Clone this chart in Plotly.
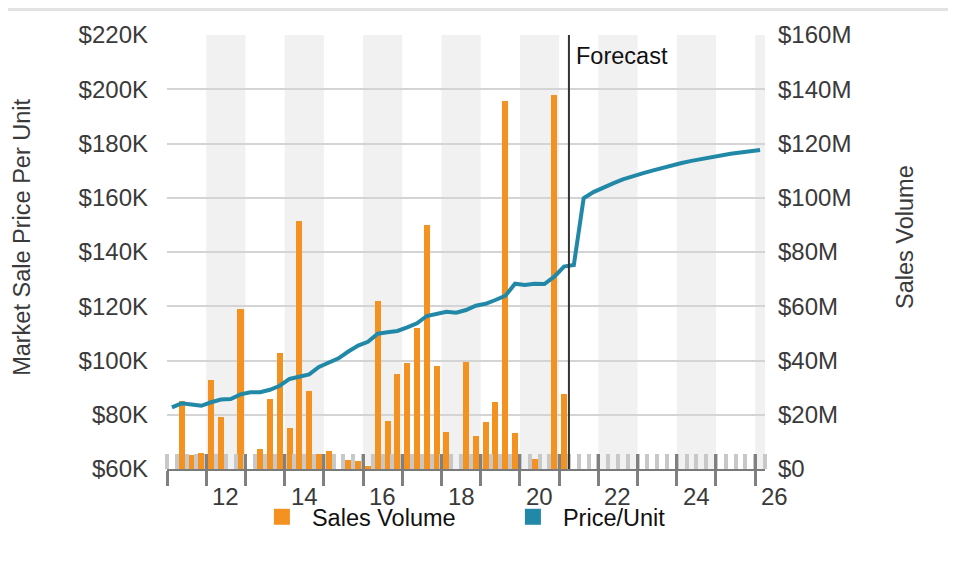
import plotly.graph_objects as go

# ---------------- data ----------------
# quarterly periods: 2011Q1 .. 2026Q1 (first 41 are actuals, rest forecast)
quarters = [f"{2011 + i // 4}Q{i % 4 + 1}" for i in range(61)]

# Sales volume, $ millions (actual quarters 2011Q1 .. 2021Q1)
sales_volume_m = [
    0, 25.1, 5.2, 5.9, 32.8, 19.2, 0, 59.0, 0, 7.4,
    25.8, 42.8, 15.2, 91.4, 28.9, 5.5, 6.6, 0, 3.3, 2.9,
    1.1, 61.9, 17.7, 35.0, 39.1, 52.0, 89.9, 38.0, 13.6, 0,
    39.4, 12.2, 17.3, 24.7, 135.7, 13.3, 0, 3.7, 0, 137.9,
    27.6,
]

# Market sale price per unit, $ thousands (2011Q1 .. 2026Q1)
price_k = [
    82.7, 84.2, 83.8, 83.3, 84.6, 85.6, 85.8, 87.5, 88.3, 88.3,
    89.2, 90.7, 93.2, 94.0, 94.9, 97.6, 99.2, 100.8, 103.3, 105.5,
    106.9, 109.9, 110.4, 110.9, 112.2, 113.7, 116.4, 117.3, 118.0, 117.6,
    118.6, 120.2, 120.9, 122.3, 123.8, 128.3, 127.8, 128.3, 128.2, 130.9,
    134.6, 135.2, 159.8, 162.1, 163.9, 165.3, 166.8, 168.0, 169.0, 170.0,
    171.0, 171.9, 172.8, 173.6, 174.3, 175.0, 175.6, 176.2, 176.7, 177.2,
    177.6,
]

left_tickvals = [60, 80, 100, 120, 140, 160, 180, 200, 220]
left_ticktext = ["$60K", "$80K", "$100K", "$120K", "$140K", "$160K", "$180K", "$200K", "$220K"]
right_tickvals = [0, 20, 40, 60, 80, 100, 120, 140, 160]
right_ticktext = ["$0", "$20M", "$40M", "$60M", "$80M", "$100M", "$120M", "$140M", "$160M"]

x_label_years = [2012, 2014, 2016, 2018, 2020, 2022, 2024, 2026]
x_label_text = ["12", "14", "16", "18", "20", "22", "24", "26"]
shaded_years = [2012, 2014, 2016, 2018, 2020, 2022, 2024, 2026]

# ---------------- helpers ----------------
def q_to_x(q):
    y, n = q.split("Q")
    return int(y) + (int(n) - 0.5) / 4.0

x_all = [q_to_x(q) for q in quarters]
x_actual = x_all[: len(sales_volume_m)]
forecast_x = x_actual[-1] + 0.125

X0, X1 = 2011, 2026.25
FONT = "Liberation Sans, Arial, Helvetica, sans-serif"
FS = 23.5
FS_TICK = 24
ORANGE = "#F39121"
TEAL = "#2189A7"
TXT = "#3a3a3a"

fig = go.Figure()

fig.add_trace(go.Bar(
    x=x_actual, y=sales_volume_m, width=0.155,
    marker=dict(color=ORANGE, line=dict(width=0)),
    xaxis="x", yaxis="y", showlegend=False, name="Sales Volume",
))
fig.add_trace(go.Scatter(
    x=x_all, y=price_k, mode="lines",
    line=dict(color=TEAL, width=4),
    xaxis="x2", yaxis="y2", showlegend=False, name="Price/Unit",
))
# legend entries (square swatches)
fig.add_trace(go.Scatter(x=[None], y=[None], mode="markers", name="Sales Volume",
                         marker=dict(symbol="square", size=16, color=ORANGE)))
fig.add_trace(go.Scatter(x=[None], y=[None], mode="markers", name="Price/Unit",
                         marker=dict(symbol="square", size=16, color=TEAL)))

shapes = []
for yr in shaded_years:
    shapes.append(dict(type="rect", xref="x", yref="paper", x0=yr, x1=min(yr + 1, X1),
                       y0=0, y1=1, fillcolor="#f1f1f1", line=dict(width=0), layer="below"))
shapes.append(dict(type="line", xref="x", yref="paper", x0=forecast_x, x1=forecast_x,
                   y0=0, y1=1, line=dict(color="#333333", width=2), layer="above"))
shapes.append(dict(type="line", xref="paper", yref="paper", x0=-0.3, x1=1.35,
                   y0=1.0588, y1=1.0588, line=dict(color="#e3e3e3", width=3), layer="above"))

annotations = []
for yr, t in zip(x_label_years, x_label_text):
    annotations.append(dict(text=t, xref="paper", yref="paper",
                            x=(yr + 0.5 - X0) / (X1 - X0), y=0, yshift=-27,
                            xanchor="center", yanchor="middle", showarrow=False,
                            font=dict(family=FONT, size=FS_TICK, color=TXT)))
annotations.append(dict(text="Forecast", xref="x", yref="paper", x=forecast_x, y=0.9516,
                        xshift=5, xanchor="left", yanchor="middle", showarrow=False,
                        font=dict(family=FONT, size=FS, color="#111111")))
annotations.append(dict(text="Market Sale Price Per Unit", xref="paper", yref="paper",
                        x=-0.2427, y=0.5346, textangle=-90, xanchor="center", yanchor="middle",
                        showarrow=False, font=dict(family=FONT, size=FS, color=TXT)))
annotations.append(dict(text="Sales Volume", xref="paper", yref="paper",
                        x=1.2341, y=0.5346, textangle=-90, xanchor="center", yanchor="middle",
                        showarrow=False, font=dict(family=FONT, size=FS, color=TXT)))

fig.update_layout(
    width=948, height=556, autosize=False,
    margin=dict(l=159, r=191, t=27, b=95),
    paper_bgcolor="white", plot_bgcolor="rgba(0,0,0,0)",
    font=dict(family=FONT, size=FS, color=TXT),
    bargap=0,
    xaxis=dict(
        range=[X0, X1], showgrid=False, zeroline=False,
        showline=True, linecolor="#7a7a7a", linewidth=2,
        ticks="outside", tickmode="linear", tick0=2011, dtick=1,
        ticklen=15, tickwidth=3, tickcolor="#808080", showticklabels=False,
        minor=dict(ticks="inside", tickmode="linear", tick0=2011, dtick=0.25,
                   ticklen=15, tickwidth=4, tickcolor="#c8c8c8", showgrid=False),
    ),
    xaxis2=dict(
        overlaying="x", anchor="y2", side="bottom", range=[X0, X1], showgrid=False, zeroline=False,
        showline=False, ticks="inside", tickmode="linear", tick0=2011, dtick=1,
        ticklen=15, tickwidth=3, tickcolor="#808080", showticklabels=False,
    ),
    yaxis=dict(
        side="right", range=[0, 160], tickmode="array",
        tickvals=right_tickvals, ticktext=right_ticktext,
        showgrid=True, gridcolor="#d4d4d4", gridwidth=1.5, zeroline=False,
        ticks="", ticklabelstandoff=12,
        tickfont=dict(family=FONT, size=FS_TICK, color=TXT),
    ),
    yaxis2=dict(
        overlaying="y", anchor="x", side="left", range=[60, 220], tickmode="array",
        tickvals=left_tickvals, ticktext=left_ticktext,
        showgrid=False, zeroline=False, ticks="", ticklabelstandoff=18,
        tickfont=dict(family=FONT, size=FS_TICK, color=TXT),
    ),
    legend=dict(orientation="h", x=0.142, xanchor="left", y=-0.1106, yanchor="middle",
                font=dict(family=FONT, size=FS, color="#111111"),
                itemwidth=50,
                entrywidth=186, entrywidthmode="pixels", bgcolor="rgba(0,0,0,0)"),
    shapes=shapes, annotations=annotations,
)

fig.write_html("out.html")
